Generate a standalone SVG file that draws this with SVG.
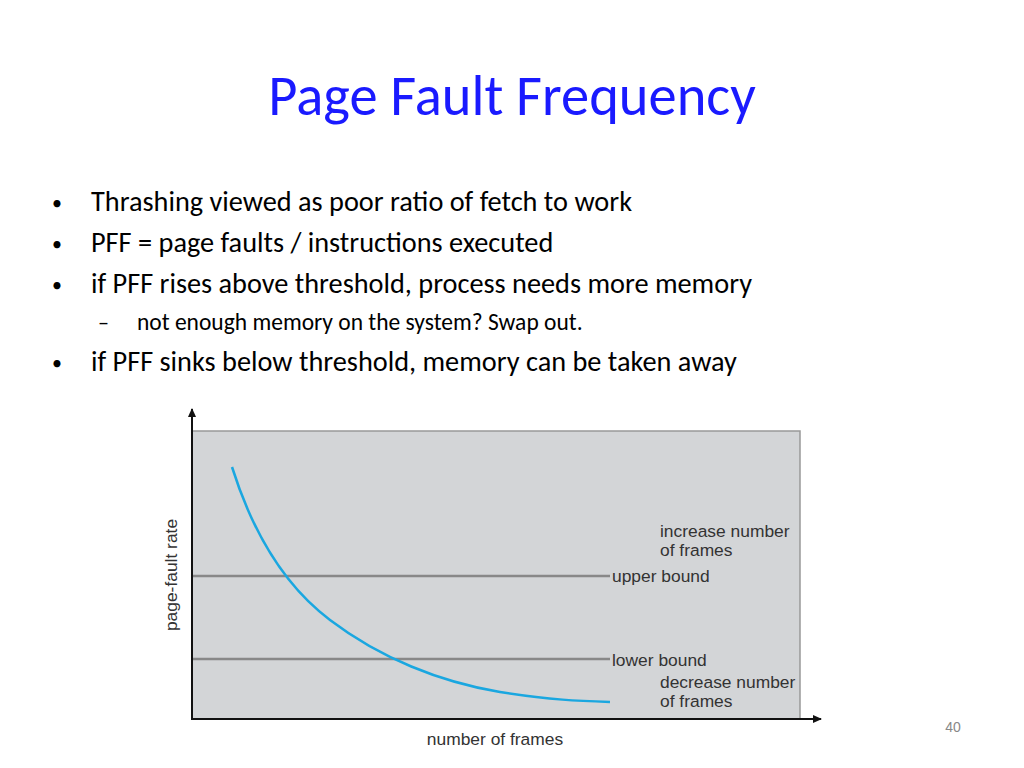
<svg xmlns="http://www.w3.org/2000/svg" width="1024" height="768" viewBox="0 0 1024 768">
<style>
.t{font-family:Calibri,"Carlito","Open Sans","Liberation Sans",sans-serif;fill:#000}
.b{font-size:28.3px}
.d{font-size:20px}
.a{font-family:"Liberation Sans",Arial,sans-serif;font-size:17.4px;fill:#333}
.ln{stroke:#888;stroke-width:2.5}
.ax{stroke:#111;stroke-width:2;fill:none}
</style>
<defs><marker id="ar" markerWidth="10" markerHeight="10" refX="8" refY="5" orient="auto" markerUnits="userSpaceOnUse"><path d="M0,1 L9,5 L0,9 Z" fill="#111"/></marker></defs>
<rect width="1024" height="768" fill="#fff"/>
<text x="512" y="115" text-anchor="middle" class="t" style="font-size:56.5px;fill:#1a1aff">Page Fault Frequency</text>
<g class="t">
<text x="52" y="210" class="d">•</text><text x="91" y="211" class="b">Thrashing viewed as poor ratio of fetch to work</text>
<text x="52" y="251" class="d">•</text><text x="91" y="252" class="b">PFF = page faults / instructions executed</text>
<text x="52" y="292" class="d">•</text><text x="91" y="293" class="b">if PFF rises above threshold, process needs more memory</text>
<text x="52" y="370" class="d">•</text><text x="91" y="371" class="b">if PFF sinks below threshold, memory can be taken away</text>
</g>
<text x="98" y="330" class="t" style="font-size:22px">–</text>
<text x="137" y="330" class="t" style="font-size:23.5px">not enough memory on the system? Swap out.</text>
<g id="chart">
<rect x="192" y="431" width="608" height="288" fill="#d3d5d7" stroke="#999" stroke-width="1.5"/>
<line class="ln" x1="192" y1="576" x2="610" y2="576"/>
<line class="ln" x1="192" y1="659" x2="610" y2="659"/>
<path d="M232,467 C255,540 290,590 330,620 C380,658 440,682 500,692 C550,700 580,701 610,702" fill="none" stroke="#1aa7e0" stroke-width="2.5"/>
<line class="ax" x1="192" y1="720" x2="192" y2="409" marker-end="url(#ar)"/>
<line class="ax" x1="191" y1="719" x2="821" y2="719" marker-end="url(#ar)"/>
<text class="a" x="660" y="537">increase number</text>
<text class="a" x="660" y="556">of frames</text>
<text class="a" x="612" y="582">upper bound</text>
<text class="a" x="612" y="666">lower bound</text>
<text class="a" x="660" y="688">decrease number</text>
<text class="a" x="660" y="707">of frames</text>
<text class="a" x="495" y="745" text-anchor="middle">number of frames</text>
<text class="a" transform="translate(177,575) rotate(-90)" text-anchor="middle">page-fault rate</text>
</g>
<text x="953" y="732" text-anchor="middle" style="font-family:'Liberation Sans',sans-serif;font-size:14px;fill:#888">40</text>
</svg>
